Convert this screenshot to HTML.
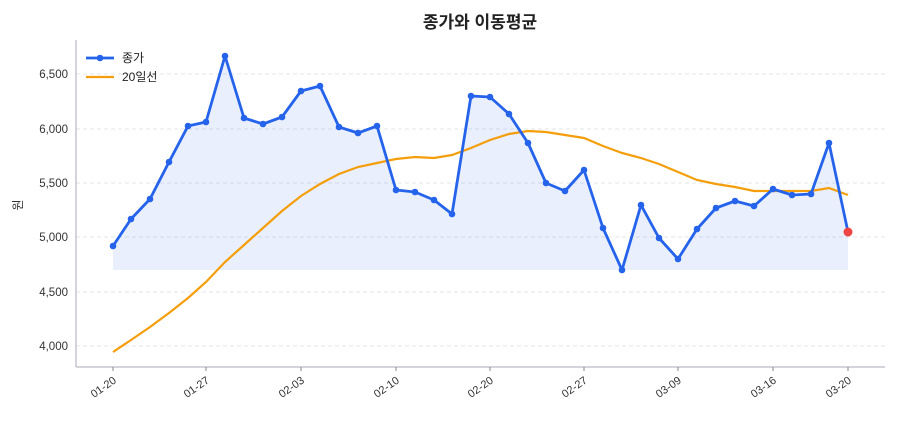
<!DOCTYPE html>
<html><head><meta charset="utf-8"><style>
body{margin:0;background:#fff;}
svg text{font-family:"Liberation Sans","Noto Sans CJK KR",sans-serif;}
</style></head><body>
<svg width="900" height="420" xmlns="http://www.w3.org/2000/svg">
<rect width="900" height="420" fill="#fff"/>
<text x="480" y="28" text-anchor="middle" font-size="17" font-weight="bold" fill="#222">종가와 이동평균</text>
<g stroke="#e3e6ea" stroke-dasharray="4,3" stroke-width="1">
<line x1="76" x2="885" y1="74" y2="74"/><line x1="76" x2="885" y1="129" y2="129"/><line x1="76" x2="885" y1="183" y2="183"/><line x1="76" x2="885" y1="237" y2="237"/><line x1="76" x2="885" y1="292" y2="292"/><line x1="76" x2="885" y1="346" y2="346"/>
</g>
<line x1="76" y1="40" x2="76" y2="367" stroke="#aab" stroke-width="1"/>
<line x1="76" y1="367" x2="885" y2="367" stroke="#aab" stroke-width="1"/>
<g font-size="11.5" fill="#333" text-anchor="end">
<text x="68" y="78">6,500</text><text x="68" y="133">6,000</text><text x="68" y="187">5,500</text><text x="68" y="241">5,000</text><text x="68" y="296">4,500</text><text x="68" y="350">4,000</text>
</g>
<text x="22" y="205" font-size="12" fill="#333" transform="rotate(-90 22 205)" text-anchor="middle">원</text>
<g font-size="11" fill="#333" text-anchor="end">
<text transform="translate(117,382) rotate(-35)">01-20</text>
<text transform="translate(210,382) rotate(-35)">01-27</text>
<text transform="translate(305,382) rotate(-35)">02-03</text>
<text transform="translate(400,382) rotate(-35)">02-10</text>
<text transform="translate(494,382) rotate(-35)">02-20</text>
<text transform="translate(588,382) rotate(-35)">02-27</text>
<text transform="translate(682,382) rotate(-35)">03-09</text>
<text transform="translate(777,382) rotate(-35)">03-16</text>
<text transform="translate(852,382) rotate(-35)">03-20</text>
</g>
<g stroke="#888" stroke-width="1">
<line x1="113" x2="113" y1="367" y2="371"/><line x1="206" x2="206" y1="367" y2="371"/><line x1="301" x2="301" y1="367" y2="371"/><line x1="396" x2="396" y1="367" y2="371"/><line x1="490" x2="490" y1="367" y2="371"/><line x1="584" x2="584" y1="367" y2="371"/><line x1="678" x2="678" y1="367" y2="371"/><line x1="773" x2="773" y1="367" y2="371"/><line x1="848" x2="848" y1="367" y2="371"/>
</g>
<polygon fill="#2563eb" fill-opacity="0.1" points="113,270 113,246 131,219 150,199 169,162 188,126 206,122 225,56 244,118 263,124 282,117 301,91 320,86 339,127 358,133 377,126 396,190 415,192 434,200 452,214 471,96 490,97 509,114 528,143 546,183 565,191 584,170 603,228 622,270 641,205 659,238 678,259 697,229 716,208 735,201 754,206 773,189 792,195 811,194 829,143 848,232 848,270"/>
<polyline fill="none" stroke="#f59e0b" stroke-width="2.2" points="113,352 131,340 150,327 169,313 188,298 206,282 225,262 244,245 263,228 282,211 301,196 320,184 339,174 358,167 377,163 396,159 415,157 434,158 452,155 471,148 490,140 509,134 528,131 546,132 565,135 584,138 603,146 622,153 641,158 659,164 678,172 697,180 716,184 735,187 754,191 773,191 792,191 811,191 829,188 848,195"/>
<polyline fill="none" stroke="#2563eb" stroke-width="2.8" stroke-linejoin="round" points="113,246 131,219 150,199 169,162 188,126 206,122 225,56 244,118 263,124 282,117 301,91 320,86 339,127 358,133 377,126 396,190 415,192 434,200 452,214 471,96 490,97 509,114 528,143 546,183 565,191 584,170 603,228 622,270 641,205 659,238 678,259 697,229 716,208 735,201 754,206 773,189 792,195 811,194 829,143 848,232"/>
<g fill="#2563eb">
<circle cx="113" cy="246" r="3.3"/><circle cx="131" cy="219" r="3.3"/><circle cx="150" cy="199" r="3.3"/><circle cx="169" cy="162" r="3.3"/><circle cx="188" cy="126" r="3.3"/><circle cx="206" cy="122" r="3.3"/><circle cx="225" cy="56" r="3.3"/><circle cx="244" cy="118" r="3.3"/><circle cx="263" cy="124" r="3.3"/><circle cx="282" cy="117" r="3.3"/><circle cx="301" cy="91" r="3.3"/><circle cx="320" cy="86" r="3.3"/><circle cx="339" cy="127" r="3.3"/><circle cx="358" cy="133" r="3.3"/><circle cx="377" cy="126" r="3.3"/><circle cx="396" cy="190" r="3.3"/><circle cx="415" cy="192" r="3.3"/><circle cx="434" cy="200" r="3.3"/><circle cx="452" cy="214" r="3.3"/><circle cx="471" cy="96" r="3.3"/><circle cx="490" cy="97" r="3.3"/><circle cx="509" cy="114" r="3.3"/><circle cx="528" cy="143" r="3.3"/><circle cx="546" cy="183" r="3.3"/><circle cx="565" cy="191" r="3.3"/><circle cx="584" cy="170" r="3.3"/><circle cx="603" cy="228" r="3.3"/><circle cx="622" cy="270" r="3.3"/><circle cx="641" cy="205" r="3.3"/><circle cx="659" cy="238" r="3.3"/><circle cx="678" cy="259" r="3.3"/><circle cx="697" cy="229" r="3.3"/><circle cx="716" cy="208" r="3.3"/><circle cx="735" cy="201" r="3.3"/><circle cx="754" cy="206" r="3.3"/><circle cx="773" cy="189" r="3.3"/><circle cx="792" cy="195" r="3.3"/><circle cx="811" cy="194" r="3.3"/><circle cx="829" cy="143" r="3.3"/>
</g>
<circle cx="848" cy="232" r="4.5" fill="#ef4444"/>
<line x1="86" y1="58" x2="114" y2="58" stroke="#2563eb" stroke-width="2.8"/>
<circle cx="100" cy="58" r="3.3" fill="#2563eb"/>
<text x="122" y="62" font-size="12" fill="#222">종가</text>
<line x1="86" y1="77" x2="114" y2="77" stroke="#f59e0b" stroke-width="2.2"/>
<text x="122" y="81" font-size="12" fill="#222">20일선</text>
</svg>
</body></html>
